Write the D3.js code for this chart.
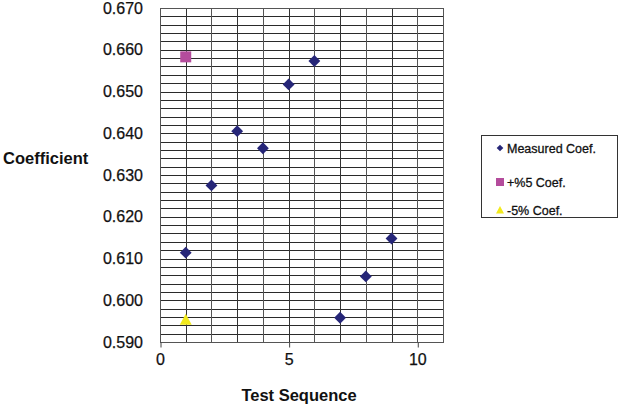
<!DOCTYPE html>
<html><head><meta charset="utf-8">
<script src="https://cdn.jsdelivr.net/npm/d3@7"></script>
<style>body{margin:0;background:#fff}svg{display:block;font-family:"Liberation Sans",Arial,sans-serif}</style>
</head><body>
<svg id="c" width="620" height="408"></svg>
<script>
const measuredX = [1,2,3,4,5,6,7,8,9];
const measuredY = [0.6114,0.6275,0.6405,0.6364,0.6517,0.6573,0.5958,0.6057,0.6148];
const plusX = [1];
const plusY = [0.6583];
const minusX = [1];
const minusY = [0.5953];
const yTicks = [0.590,0.600,0.610,0.620,0.630,0.640,0.650,0.660,0.670];
const xTicks = [0,5,10];
const legendLabels = ["Measured Coef.","+%5 Coef.","-5% Coef."];

const svg = d3.select("#c");
const L=160, R=443, T=8, B=342;
const x = d3.scaleLinear().domain([0,11]).range([L,R]);
const y = d3.scaleLinear().domain([0.590,0.670]).range([B,T]);

const g = svg.append("g");
const hLines = d3.range(0,41).map(i=>0.590+i*0.002);
g.selectAll("line.h").data(hLines).enter().append("line")
  .attr("x1",L).attr("x2",R)
  .attr("y1",d=>Math.round(y(d))+0.5).attr("y2",d=>Math.round(y(d))+0.5)
  .attr("stroke","#2a2a2a").attr("stroke-width",1);
const vLines = d3.range(0,12);
g.selectAll("line.v").data(vLines).enter().append("line")
  .attr("y1",T).attr("y2",B)
  .attr("x1",d=>Math.round(x(d))+0.5).attr("x2",d=>Math.round(x(d))+0.5)
  .attr("stroke",(d,i)=> i%2? "#333":"#555").attr("stroke-width",1);
g.append("rect").attr("x",L+0.5).attr("y",Math.round(T)+0.5).attr("width",Math.round(R)-L).attr("height",Math.round(B)-Math.round(T))
  .attr("fill","none").attr("stroke","#555");

const xa = svg.append("g").attr("transform",`translate(0,${Math.round(B)+0.5})`)
  .call(d3.axisBottom(x).tickValues(xTicks).tickSize(5).tickPadding(6).tickFormat(d3.format("d")));
xa.select(".domain").remove();
xa.selectAll("line").attr("stroke","#444").attr("transform","translate(0.5,0)");
xa.selectAll("text").attr("font-size",16).attr("fill","#111").attr("stroke","#111").attr("stroke-width",0.25).attr("font-family","Liberation Sans, Arial, sans-serif");

const ya = svg.append("g").attr("transform",`translate(${L},0)`)
  .call(d3.axisLeft(y).tickValues(yTicks).tickSize(0).tickPadding(17).tickFormat(d3.format(".3f")));
ya.select(".domain").remove();
ya.selectAll("text").attr("font-size",16).attr("fill","#111").attr("stroke","#111").attr("stroke-width",0.25).attr("font-family","Liberation Sans, Arial, sans-serif");

svg.append("text").attr("x",3).attr("y",164).attr("font-size",16.5).attr("font-weight","bold").attr("fill","#111").text("Coefficient");
svg.append("text").attr("x",299).attr("y",401).attr("text-anchor","middle").attr("font-size",16.5).attr("font-weight","bold").attr("fill","#111").text("Test Sequence");

const cDia="#262678", cSq="#b44c9c", cTri="#f2ea1c";
svg.append("g").selectAll("path").data(measuredX.map((v,i)=>[v,measuredY[i]])).enter().append("path")
  .attr("d",d3.symbol().type(d3.symbolSquare).size(70))
  .attr("transform",d=>`translate(${x(d[0])},${y(d[1])}) rotate(45)`).attr("fill",cDia);
svg.append("g").selectAll("rect").data(plusX.map((v,i)=>[v,plusY[i]])).enter().append("rect")
  .attr("x",d=>x(d[0])-5.5).attr("y",d=>y(d[1])-5.5).attr("width",11).attr("height",11).attr("fill",cSq);
svg.append("g").selectAll("path").data(minusX.map((v,i)=>[v,minusY[i]])).enter().append("path")
  .attr("d","M0,-6L6,5L-6,5Z")
  .attr("transform",d=>`translate(${x(d[0])},${y(d[1])})`).attr("fill",cTri);

const lg = svg.append("g");
lg.append("rect").attr("x",481.5).attr("y",135.5).attr("width",136).attr("height",82).attr("fill","#fff").attr("stroke","#333");
const ly=[148,182,210];
lg.append("path").attr("d",d3.symbol().type(d3.symbolSquare).size(22)).attr("transform",`translate(500,${ly[0]}) rotate(45)`).attr("fill",cDia);
lg.append("rect").attr("x",496).attr("y",ly[1]-4).attr("width",8).attr("height",8).attr("fill",cSq);
lg.append("path").attr("d","M0,-4L4,3.5L-4,3.5Z").attr("transform",`translate(500,${ly[2]})`).attr("fill",cTri);
lg.selectAll("text.l").data(legendLabels).enter().append("text")
  .attr("x",507).attr("y",(d,i)=>ly[i]+4.5).attr("font-size",12.5).attr("fill","#111").attr("stroke","#111").attr("stroke-width",0.3).text(d=>d);
</script>
</body></html>
